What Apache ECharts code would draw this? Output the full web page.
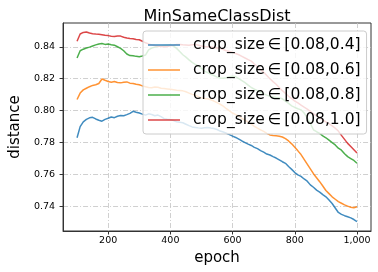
<!DOCTYPE html>
<html>
<head>
<meta charset="utf-8">
<script src="https://cdn.jsdelivr.net/npm/echarts@6/dist/echarts.min.js"></script>
<style>html,body{margin:0;padding:0;background:#fff}#c{width:378px;height:272px}</style>
</head>
<body>
<div id="c"></div>
<script>
const epochs = [100,110,120,130,140,150,160,170,180,190,200,210,220,230,240,250,260,270,280,290,300,310,320,330,340,350,360,370,380,390,400,410,420,430,440,450,460,470,480,490,500,510,520,530,540,550,560,570,580,590,600,610,620,630,640,650,660,670,680,690,700,710,720,730,740,750,760,770,780,790,800,810,820,830,840,850,860,870,880,890,900,910,920,930,940,950,960,970,980,990,1000];
const seriesNames = ['crop_size\u2009\u2208\u2009[0.08,0.4]','crop_size\u2009\u2208\u2009[0.08,0.6]','crop_size\u2009\u2208\u2009[0.08,0.8]','crop_size\u2009\u2208\u2009[0.08,1.0]'];
const blue = [.7830,.7900,.7930,.7945,.7955,.7958,.7948,.7940,.7934,.7945,.7952,.7960,.7956,.7965,.7970,.7968,.7975,.7983,.7996,.7990,.7985,.7978,.7972,.7980,.7976,.7968,.7972,.7962,.7950,.7946,.7944,.7938,.7930,.7927,.7924,.7915,.7906,.7898,.7895,.7892,.7890,.7893,.7895,.7891,.7888,.7882,.7872,.7866,.7858,.7850,.7840,.7832,.7821,.7810,.7800,.7790,.7782,.7770,.7762,.7750,.7740,.7728,.7722,.7712,.7703,.7692,.7680,.7670,.7650,.7632,.7612,.7598,.7588,.7572,.7558,.7535,.7520,.7502,.7490,.7474,.7460,.7440,.7418,.7390,.7362,.7350,.7342,.7335,.7328,.7318,.7305];
const orange = [.8070,.8110,.8130,.8140,.8150,.8158,.8162,.8170,.8198,.8190,.8183,.8178,.8182,.8176,.8174,.8178,.8180,.8172,.8170,.8165,.8162,.8155,.8150,.8145,.8144,.8148,.8146,.8140,.8138,.8136,.8134,.8131,.8128,.8126,.8124,.8118,.8110,.8102,.8096,.8088,.8080,.8076,.8074,.8068,.8060,.8050,.8040,.8028,.8012,.7998,.7985,.7975,.7965,.7952,.7940,.7928,.7915,.7902,.7890,.7880,.7870,.7858,.7848,.7844,.7842,.7840,.7835,.7825,.7810,.7792,.7770,.7748,.7725,.7695,.7665,.7635,.7605,.7580,.7555,.7528,.7500,.7480,.7460,.7445,.7430,.7420,.7410,.7402,.7395,.7392,.7398];
const green = [.8330,.8375,.8385,.8392,.8398,.8405,.8412,.8418,.8420,.8415,.8417,.8413,.8410,.8400,.8390,.8375,.8355,.8345,.8344,.8340,.8338,.8342,.8348,.8380,.8392,.8398,.8402,.8405,.8408,.8410,.8412,.8405,.8390,.8370,.8350,.8335,.8318,.8302,.8290,.8280,.8265,.8248,.8238,.8228,.8220,.8210,.8204,.8203,.8206,.8212,.8216,.8212,.8200,.8188,.8175,.8160,.8145,.8135,.8125,.8115,.8105,.8097,.8090,.8085,.8082,.8080,.8074,.8060,.8045,.8030,.8020,.8012,.8005,.7985,.7955,.7920,.7880,.7868,.7858,.7842,.7830,.7815,.7800,.7785,.7765,.7752,.7730,.7712,.7700,.7688,.7670];
const red = [.8435,.8480,.8490,.8493,.8486,.8482,.8480,.8479,.8476,.8472,.8470,.8466,.8465,.8468,.8467,.8460,.8455,.8452,.8450,.8446,.8444,.8435,.8425,.8418,.8412,.8408,.8405,.8402,.8400,.8402,.8406,.8410,.8415,.8414,.8412,.8411,.8410,.8413,.8415,.8410,.8405,.8402,.8400,.8398,.8396,.8393,.8390,.8382,.8375,.8370,.8365,.8358,.8350,.8340,.8330,.8320,.8310,.8292,.8275,.8258,.8240,.8220,.8200,.8182,.8165,.8145,.8125,.8108,.8090,.8075,.8060,.8048,.8035,.8022,.8010,.7995,.7980,.7968,.7955,.7942,.7930,.7918,.7905,.7890,.7872,.7845,.7820,.7795,.7775,.7755,.7735];
const xTicks = [200,400,600,800,1000];
const yTicks = [0.74,0.76,0.78,0.80,0.82,0.84];
const colors = ['#1f77b4','#ff7f0e','#2ca02c','#d62728'];
const values = [blue, orange, green, red];

const FONT = 'DejaVu Sans';
const gridLine = {show:true, lineStyle:{color:'#c4c4c4', width:0.8, type:[5,2,1,2]}};
const chart = echarts.init(document.getElementById('c'), null, {renderer:'canvas'});
chart.setOption({
  animation:false,
  backgroundColor:'#fff',
  title:{text:'MinSameClassDist', left:212, top:4, textAlign:'center',
    textStyle:{fontFamily:FONT, fontSize:16, fontWeight:'normal', color:'#000'}},
  grid:{left:53, right:7, top:23, bottom:41, show:true, borderColor:'#333', borderWidth:1},
  legend:{orient:'vertical', left:143, top:31, itemGap:9, itemWidth:32, itemHeight:1.5, icon:'rect',
    padding:[6,6,6,5], backgroundColor:'rgba(255,255,255,0.8)', borderColor:'#ccc', borderWidth:1, borderRadius:3,
    itemStyle:{opacity:0.85},
    textStyle:{fontFamily:FONT, fontSize:15.5, color:'#000', padding:[0,0,0,8], lineHeight:15.5}, data:seriesNames},
  xAxis:{type:'value', min:55, max:1045, name:'epoch', nameLocation:'middle', nameGap:18,
    nameTextStyle:{fontFamily:FONT, fontSize:15, color:'#000'},
    axisLine:{show:true, lineStyle:{color:'#333'}},
    axisTick:{show:true, length:3.5, customValues:xTicks, lineStyle:{color:'#333'}},
    axisLabel:{customValues:xTicks, fontFamily:FONT, fontSize:9.5, color:'#000', margin:5},
    splitLine:gridLine},
  yAxis:{type:'value', min:0.7246, max:0.8549, name:'distance', nameLocation:'middle', nameGap:32,
    nameTextStyle:{fontFamily:FONT, fontSize:15, color:'#000'},
    axisLine:{show:true, lineStyle:{color:'#333'}},
    axisTick:{show:true, length:3.5, customValues:yTicks, lineStyle:{color:'#333'}},
    axisLabel:{customValues:yTicks, fontFamily:FONT, fontSize:9.5, color:'#000', margin:8,
      formatter:v=>v.toFixed(2)},
    splitLine:gridLine},
  series: values.map((arr,i)=>({
    name:seriesNames[i], type:'line', showSymbol:false, symbol:'none',
    data: epochs.map((e,j)=>[e, arr[j]]),
    lineStyle:{color:colors[i], width:1.5, opacity:0.85}, itemStyle:{color:colors[i]}
  }))
});
</script>
</body>
</html>
